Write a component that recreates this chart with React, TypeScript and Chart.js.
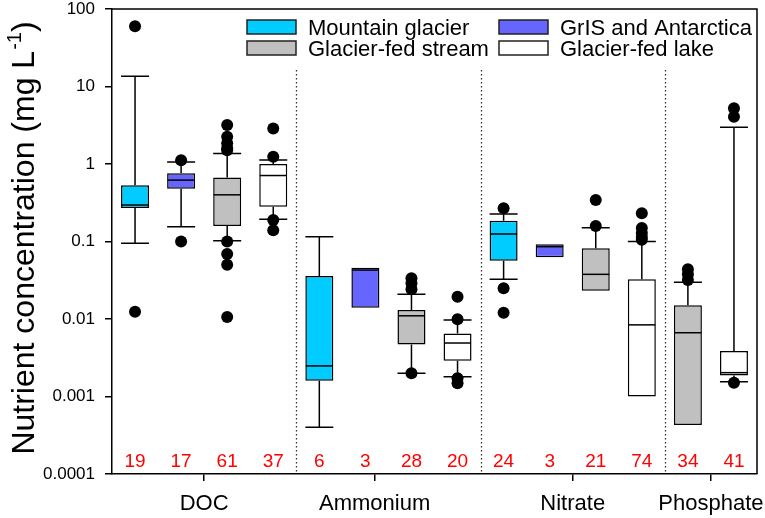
import { useEffect, useRef } from 'react';
import { Chart, registerables } from 'chart.js';

Chart.register(...registerables);

// ---- data ----
const nutrients = ['DOC', 'Ammonium', 'Nitrate', 'Phosphate'];
const nutrientTickPositions = [2, 5.7, 10, 13];
const habitats = ['Mountain glacier', 'GrIS and Antarctica', 'Glacier-fed stream', 'Glacier-fed lake'];
const habitatColors = ['#00CCFF', '#6666FF', '#C0C0C0', '#FFFFFF'];
const yTickValues = [0.0001, 0.001, 0.01, 0.1, 1, 10, 100];
const yTickLabels = ['0.0001', '0.001', '0.01', '0.1', '1', '10', '100'];
const groupSeparators = [4, 8, 12];

// one entry per box, in left-to-right order
const boxHabitat = [0, 1, 2, 3, 0, 1, 2, 3, 0, 1, 2, 3, 2, 3];
const whiskerLow = [0.095, 0.155, 0.102, 0.193, 0.0004, null, 0.002, 0.0018, 0.0325, null, null, null, null, 0.00155];
const q1 = [0.27, 0.48, 0.158, 0.28, 0.0016, 0.014, 0.0047, 0.0029, 0.0565, 0.0624, 0.0232, 0.001, 0.00043, 0.00186];
const median = [0.296, 0.62, 0.4, 0.71, 0.00248, 0.0428, 0.011, 0.0049, 0.125, 0.0857, 0.0377, 0.0084, 0.00665, 0.00203];
const q3 = [0.53, 0.76, 0.67, 1.0, 0.0359, 0.046, 0.0131, 0.0065, 0.185, 0.092, 0.0817, 0.0325, 0.0151, 0.00386];
const whiskerHigh = [13.6, 1.06, 1.37, 1.13, 0.115, null, 0.0208, 0.0097, 0.226, null, 0.151, 0.1, 0.0297, 2.97];
const sampleSizes = [19, 17, 61, 37, 6, 3, 28, 20, 24, 3, 21, 74, 34, 41];
const outliers: number[][] = [
  [60, 0.0124],
  [1.12, 0.1],
  [3.18, 2.25, 1.85, 1.6, 1.5, 0.1, 0.069, 0.05, 0.0106],
  [2.88, 1.24, 0.189, 0.14],
  [],
  [],
  [0.0335, 0.029, 0.0242, 0.002],
  [0.0194, 0.0099, 0.00172, 0.00148],
  [0.268, 0.0249, 0.012],
  [],
  [0.343, 0.158],
  [0.231, 0.149, 0.129, 0.114, 0.105],
  [0.0437, 0.0377, 0.0318],
  [5.24, 4.07, 0.0015],
];

const FONT = "'Liberation Sans', Arial, sans-serif";
const BOX_W = 28;

const slotX = (i: number) => i + 0.5;

const boxPlugin = {
  id: 'boxExtras',
  beforeDatasetsDraw(chart: any) {
    const { ctx, chartArea, scales } = chart;
    ctx.save();
    ctx.strokeStyle = '#333';
    ctx.lineWidth = 1.3;
    ctx.setLineDash([1.5, 2.5]);
    groupSeparators.forEach((v) => {
      const x = Math.round(scales.x.getPixelForValue(v)) + 0.5;
      ctx.beginPath();
      ctx.moveTo(x, chartArea.top + 61);
      ctx.lineTo(x, chartArea.bottom);
      ctx.stroke();
    });
    ctx.restore();
  },
  afterDatasetsDraw(chart: any) {
    const { ctx, chartArea, scales } = chart;
    const xs = scales.x;
    const ys = scales.y;
    ctx.save();
    ctx.strokeStyle = '#000';
    ctx.lineWidth = 1.5;
    ctx.setLineDash([]);
    for (let i = 0; i < q1.length; i++) {
      const x = xs.getPixelForValue(slotX(i));
      const hw = BOX_W / 2;
      const hi = whiskerHigh[i];
      const lo = whiskerLow[i];
      if (hi !== null) {
        const yb = ys.getPixelForValue(q3[i]);
        const yc = ys.getPixelForValue(hi);
        ctx.beginPath();
        ctx.moveTo(x, yb);
        ctx.lineTo(x, yc);
        ctx.moveTo(x - hw, yc);
        ctx.lineTo(x + hw, yc);
        ctx.stroke();
      }
      if (lo !== null) {
        const yb = ys.getPixelForValue(q1[i]);
        const yc = ys.getPixelForValue(lo);
        ctx.beginPath();
        ctx.moveTo(x, yb);
        ctx.lineTo(x, yc);
        ctx.moveTo(x - hw, yc);
        ctx.lineTo(x + hw, yc);
        ctx.stroke();
      }
      const ym = ys.getPixelForValue(median[i]);
      ctx.beginPath();
      ctx.moveTo(x - hw + 0.5, ym);
      ctx.lineTo(x + hw - 0.5, ym);
      ctx.stroke();
    }
    // frame (top and right)
    ctx.beginPath();
    ctx.moveTo(chartArea.left, chartArea.top);
    ctx.lineTo(chartArea.right, chartArea.top);
    ctx.lineTo(chartArea.right, chartArea.bottom);
    ctx.stroke();
    ctx.restore();
  },
  afterDraw(chart: any) {
    const { ctx, chartArea, scales } = chart;
    ctx.save();
    // sample sizes
    ctx.fillStyle = '#FF0000';
    ctx.font = `19px ${FONT}`;
    ctx.textAlign = 'center';
    ctx.textBaseline = 'alphabetic';
    sampleSizes.forEach((n, i) => {
      ctx.fillText(String(n), scales.x.getPixelForValue(slotX(i)), chartArea.bottom - 7);
    });
    // legend
    const cols = [chartArea.left + 135, chartArea.left + 387];
    const rows = [chartArea.top + 11, chartArea.top + 32];
    ctx.font = `22px ${FONT}`;
    ctx.textAlign = 'left';
    habitats.forEach((name, k) => {
      const cx = cols[k % 2];
      const cy = rows[Math.floor(k / 2)];
      ctx.fillStyle = habitatColors[k];
      ctx.fillRect(cx, cy, 49, 14);
      ctx.strokeStyle = '#222';
      ctx.lineWidth = 1.5;
      ctx.strokeRect(cx, cy, 49, 14);
      ctx.fillStyle = '#000';
      ctx.fillText(name, cx + 61, cy + 14.5);
    });
    // y title with superscript
    const main = 'Nutrient concentration (mg L';
    const sup = '-1';
    const close = ')';
    const big = `32px ${FONT}`;
    const small = `20px ${FONT}`;
    ctx.font = big;
    const w1 = ctx.measureText(main).width;
    const w3 = ctx.measureText(close).width;
    ctx.font = small;
    const w2 = ctx.measureText(sup).width;
    const total = w1 + w2 + w3;
    ctx.translate(34, (chartArea.top + chartArea.bottom) / 2 - 3);
    ctx.rotate(-Math.PI / 2);
    ctx.fillStyle = '#000';
    ctx.textAlign = 'left';
    ctx.font = big;
    ctx.fillText(main, -total / 2, 0);
    ctx.font = small;
    ctx.fillText(sup, -total / 2 + w1 + 1, -13);
    ctx.font = big;
    ctx.fillText(close, -total / 2 + w1 + w2 + 1, 0);
    ctx.restore();
  },
};

export default function App() {
  const canvasRef = useRef<HTMLCanvasElement | null>(null);

  useEffect(() => {
    document.body.style.margin = '0';
    const canvas = canvasRef.current;
    if (!canvas) return;

    const outlierPoints: { x: number; y: number }[] = [];
    outliers.forEach((list, i) => list.forEach((v) => outlierPoints.push({ x: slotX(i), y: v })));

    const barSets = habitats.map((name, h) => ({
      type: 'bar' as const,
      label: name,
      data: q1
        .map((v, i) => ({ i, v }))
        .filter((d) => boxHabitat[d.i] === h)
        .map((d) => ({ x: slotX(d.i), y: [q1[d.i], q3[d.i]] })),
      backgroundColor: habitatColors[h],
      borderColor: '#000',
      borderWidth: 1.5,
      borderSkipped: false,
      grouped: false,
      maxBarThickness: BOX_W,
      order: 2,
    }));

    const chart = new Chart(canvas, {
      type: 'bar',
      data: {
        datasets: [
          {
            type: 'scatter' as const,
            label: 'Outliers',
            data: outlierPoints,
            backgroundColor: '#000',
            borderColor: '#000',
            pointRadius: 6,
            borderWidth: 0,
            order: 0,
          } as any,
          ...(barSets as any[]),
        ],
      },
      options: {
        animation: false,
        responsive: false,
        layout: { padding: { top: 9, right: 8, left: 0, bottom: 0 } },
        plugins: { legend: { display: false }, tooltip: { enabled: false } },
        scales: {
          x: {
            type: 'linear',
            min: 0,
            max: 14,
            offset: false,
            grid: {
              display: true,
              drawOnChartArea: false,
              drawTicks: true,
              tickLength: 7,
              color: '#000',
              lineWidth: 1.5,
              offset: false,
            },
            border: { display: true, color: '#000', width: 1.5 },
            ticks: {
              autoSkip: false,
              maxRotation: 0,
              padding: 10,
              color: '#000',
              font: { family: FONT, size: 22 },
              callback: (_v: any, i: number) => nutrients[i],
            },
            afterBuildTicks: (scale: any) => {
              scale.ticks = nutrientTickPositions.map((v) => ({ value: v }));
            },
            afterFit: (scale: any) => {
              scale.height = 44;
              scale.paddingLeft = 0;
              scale.paddingRight = 0;
            },
          },
          y: {
            type: 'logarithmic',
            min: 0.0001,
            max: 100,
            grid: {
              display: true,
              drawOnChartArea: false,
              drawTicks: true,
              tickLength: 7,
              color: '#000',
              lineWidth: 1.5,
            },
            border: { display: true, color: '#000', width: 1.5 },
            ticks: {
              autoSkip: false,
              padding: 10,
              color: '#000',
              font: { family: FONT, size: 17 },
              callback: (_v: any, i: number) => yTickLabels[i],
            },
            afterBuildTicks: (scale: any) => {
              scale.ticks = yTickValues.map((v) => ({ value: v }));
            },
            afterFit: (scale: any) => {
              scale.width = 112;
              scale.paddingTop = 0;
              scale.paddingBottom = 0;
            },
          },
        },
      } as any,
      plugins: [boxPlugin],
    });

    return () => chart.destroy();
  }, []);

  return (
    <div style={{ width: 765, height: 518 }}>
      <canvas ref={canvasRef} width={765} height={518} style={{ display: 'block' }} />
    </div>
  );
}
